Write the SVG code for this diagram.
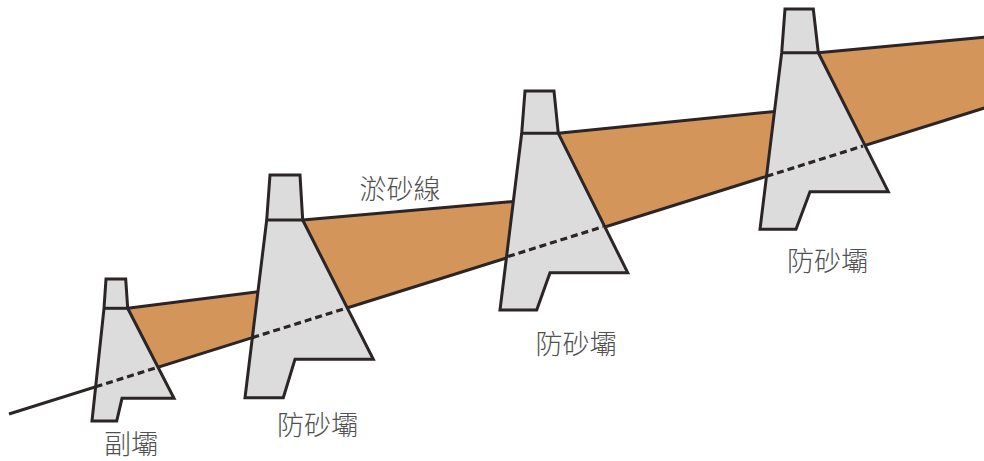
<svg xmlns="http://www.w3.org/2000/svg" width="984" height="461" viewBox="0 0 984 461">
  <style>
    .sediment { fill: #d4955a; stroke: none; }
    .edge { fill: none; stroke: #2b2525; stroke-width: 3; stroke-linecap: butt; }
    .ground-dash { fill: none; stroke: #2b2525; stroke-width: 3.2; stroke-dasharray: 7 4; }
    .dam { fill: #dcdcdd; stroke: #2b2525; stroke-width: 3; stroke-linejoin: miter; }
    .label { font-family: "Noto Sans CJK TC", "Noto Sans CJK SC", sans-serif; font-size: 27px; font-weight: 300; fill: #505050; text-anchor: middle; }
  </style>
  <rect width="984" height="461" fill="#ffffff"/>

  <!-- deposited sediment wedges behind each dam -->
  <g id="sediment">
    <polygon class="sediment" points="127.7,308.3 270,290.1 270,332.1 127.7,376.8"/>
    <polygon class="sediment" points="302.7,220 525,200.5 525,252.1 302.7,321.5"/>
    <polygon class="sediment" points="558.3,133.3 785,110.4 785,170.5 558.3,241.6"/>
    <polygon class="sediment" points="818.3,52.7 990,36.7 990,106.2 818.3,160.1"/>
  </g>

  <!-- sediment surface lines and original ground line -->
  <g id="connectors">
    <line class="edge" x1="127.7" y1="308.3" x2="270" y2="290.1"/>
    <line class="edge" x1="302.7" y1="220" x2="525" y2="200.5"/>
    <line class="edge" x1="558.3" y1="133.3" x2="785" y2="110.4"/>
    <line class="edge" x1="818.3" y1="52.7" x2="990" y2="36.7"/>
    <line class="edge" x1="9" y1="414" x2="990" y2="106.2"/>
  </g>

  <!-- sub-dam -->
  <g id="dam-sub">
    <polygon class="dam" points="106,279 125.7,279 127.7,308.3 174,398.3 122,398.3 116.7,421 92,421 104,308.3"/>
    <line class="edge" x1="104" y1="308.3" x2="127.7" y2="308.3"/>
    <line class="ground-dash" x1="95.6" y1="386.8" x2="158" y2="367.2"/>
  </g>

  <!-- check dam 1 -->
  <g id="dam-1">
    <polygon class="dam" points="270,175 300,175 302.7,220 373.3,359.3 295,359.3 283.3,397.7 245,397.7 266.7,220"/>
    <line class="edge" x1="266.7" y1="220" x2="302.7" y2="220"/>
    <line class="ground-dash" x1="252.3" y1="337.7" x2="347.3" y2="307.8"/>
  </g>

  <!-- check dam 2 -->
  <g id="dam-2">
    <polygon class="dam" points="525,91 554,91 558.3,133.3 627.7,272.7 550,272.7 536.7,310 500,310 521.7,133.3"/>
    <line class="edge" x1="521.7" y1="133.3" x2="558.3" y2="133.3"/>
    <line class="ground-dash" x1="508" y1="256.5" x2="603" y2="226.7"/>
  </g>

  <!-- check dam 3 -->
  <g id="dam-3">
    <polygon class="dam" points="785,9 813.3,9 818.3,52.7 888.3,191.7 810,191.7 796,229.3 760,229.3 781.7,52.7"/>
    <line class="edge" x1="781.7" y1="52.7" x2="818.3" y2="52.7"/>
    <line class="ground-dash" x1="766.5" y1="176.3" x2="863" y2="146"/>
  </g>

  <!-- labels -->
  <g id="labels">
    <text class="label" x="400" y="199">淤砂線</text>
    <text class="label" x="131" y="454">副壩</text>
    <text class="label" x="317.5" y="434.5">防砂壩</text>
    <text class="label" x="576" y="353.5">防砂壩</text>
    <text class="label" x="827.5" y="271">防砂壩</text>
  </g>
</svg>
